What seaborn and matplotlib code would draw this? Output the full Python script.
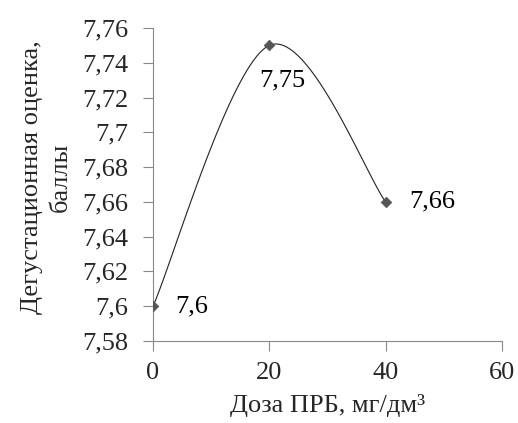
import numpy as np
import pandas as pd
import matplotlib
matplotlib.use("Agg")
import matplotlib.pyplot as plt
import seaborn as sns

# Data
doses = [0, 20, 40]
scores = [7.6, 7.75, 7.66]
point_labels = ["7,6", "7,75", "7,66"]
x_ticks = [0, 20, 40, 60]
x_tick_labels = ["0", "20", "40", "60"]
y_ticks = [7.58, 7.60, 7.62, 7.64, 7.66, 7.68, 7.70, 7.72, 7.74, 7.76]
y_tick_labels = ["7,58", "7,6", "7,62", "7,64", "7,66", "7,68", "7,7", "7,72", "7,74", "7,76"]
x_label = "Доза ПРБ, мг/дм³"
y_label = "Дегустационная оценка,\nбаллы"

sns.set_theme(style="white")
plt.rcParams['font.family'] = ['Liberation Serif', 'DejaVu Serif']

fig = plt.figure(figsize=(5.18, 4.23), dpi=100)
ax = fig.add_axes([153/518, 1-341/423, (502-153)/518, (341-28)/423])

# Excel-style smoothed line (Bezier through the data points)
pts = np.array(list(zip(doses, scores)), dtype=float)
n = len(pts)
curve_x, curve_y = [], []
t = np.linspace(0, 1, 60)
for i in range(n - 1):
    p0 = pts[max(i - 1, 0)]
    p1 = pts[i]
    p2 = pts[i + 1]
    p3 = pts[min(i + 2, n - 1)]
    c1 = p1 + (p2 - p0) / 6.0
    c2 = p2 - (p3 - p1) / 6.0
    b = ((1 - t) ** 3)[:, None] * p1 + (3 * (1 - t) ** 2 * t)[:, None] * c1 \
        + (3 * (1 - t) * t ** 2)[:, None] * c2 + (t ** 3)[:, None] * p2
    curve_x.extend(b[:, 0])
    curve_y.extend(b[:, 1])

curve = pd.DataFrame({"x": curve_x, "y": curve_y})
sns.lineplot(data=curve, x="x", y="y", sort=False, color="#222222", linewidth=0.8, ax=ax, estimator=None)

df = pd.DataFrame({"dose": doses, "score": scores})
sns.scatterplot(data=df, x="dose", y="score", marker="D", s=30, color="#555555",
                edgecolor="#555555", ax=ax, zorder=5)

# Point labels (offsets in pixels)
offsets = [(22, 0, "left", "center"), (13, -35, "center", "center"), (24, 0, "left", "center")]
for xv, yv, lab, (dx, dy, ha, va) in zip(doses, scores, point_labels, offsets):
    ax.annotate(lab, (xv, yv), xytext=(dx * 0.72, dy * 0.72), textcoords="offset points",
                ha=ha, va=va, fontsize=19, color="black")

ax.set_xlim(0, 60)
ax.set_ylim(7.58, 7.76)
ax.set_xticks(x_ticks)
ax.set_xticklabels(x_tick_labels)
ax.set_yticks(y_ticks)
ax.set_yticklabels(y_tick_labels)
ax.tick_params(axis="both", labelsize=19, length=7, width=0.8, color="#888888",
               direction="out", bottom=True, left=True)
ax.tick_params(axis="y", pad=11)
ax.tick_params(axis="x", pad=8)
for s in ["top", "right"]:
    ax.spines[s].set_visible(False)
for s in ["left", "bottom"]:
    ax.spines[s].set_color("#888888")
    ax.spines[s].set_linewidth(0.8)

ax.set_xlabel(x_label, fontsize=19, labelpad=7)
ax.set_ylabel(y_label, fontsize=19, linespacing=1.4)
ax.yaxis.set_label_coords((72 - 153) / 349, (341 - 177) / 313)

fig.savefig("out.png", dpi=100)
